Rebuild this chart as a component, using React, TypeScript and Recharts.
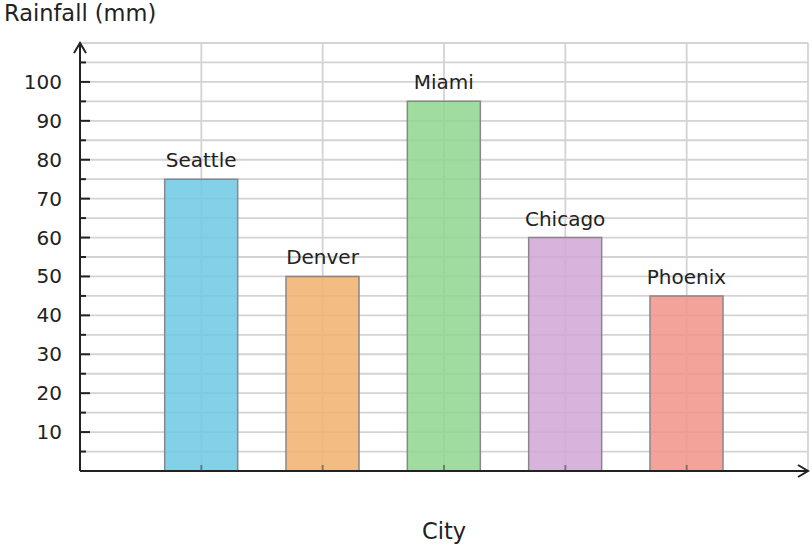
import React from 'react';
import { ComposedChart, Bar, XAxis, YAxis, CartesianGrid, ReferenceDot, Cell, LabelList } from 'recharts';

const cities = ['Seattle', 'Denver', 'Miami', 'Chicago', 'Phoenix'];
const rainfall = [75, 50, 95, 60, 45];
const barColors = ['#6DC8E5', '#F0B06C', '#8FD58F', '#D1A7D6', '#F2938A'];
const yTicks = [5, 10, 15, 20, 25, 30, 35, 40, 45, 50, 55, 60, 65, 70, 75, 80, 85, 90, 95, 100, 105, 110];
const xTicks = [1, 2, 3, 4, 5, 6];

const data = cities.map((city, i) => ({ pos: i + 1, city, rainfall: rainfall[i] }));

const FONT = 'DejaVu Sans, sans-serif';

const YTick = (props: any) => {
  const { x, y, payload } = props;
  const v = payload.value;
  if (v >= 110) return null;
  const major = v % 10 === 0;
  const axisX = x + 18;
  return (
    <g>
      <line x1={axisX} x2={axisX + (major ? 10 : 6)} y1={y} y2={y} stroke="#222" strokeWidth={2} />
      {major && (
        <text x={x} y={y} dy={7} textAnchor="end" fontSize={20} fill="#222" fontFamily={FONT}>
          {v}
        </text>
      )}
    </g>
  );
};

const XTick = (props: any) => {
  const { x, y, payload } = props;
  if (payload.value > 5) return null;
  return <line x1={x} x2={x} y1={y} y2={y - 6} stroke="#333" strokeOpacity={0.5} strokeWidth={2} />;
};

const ArrowRight = (props: any) => {
  const { cx, cy } = props;
  return <path d={`M${cx - 10},${cy - 6} L${cx},${cy} L${cx - 10},${cy + 6}`} fill="none" stroke="#222" strokeWidth={2} />;
};

const ArrowUp = (props: any) => {
  const { cx, cy } = props;
  return <path d={`M${cx - 6},${cy + 10} L${cx},${cy} L${cx + 6},${cy + 10}`} fill="none" stroke="#222" strokeWidth={2} />;
};

const CityLabel = (props: any) => {
  const { x, y, width, value } = props;
  return (
    <text x={x + width / 2} y={y - 12} textAnchor="middle" fontSize={20} fill="#222" fontFamily={FONT}>
      {value}
    </text>
  );
};

export default function App() {
  return (
    <div style={{ position: 'absolute', left: 0, top: 0, background: '#fff', fontFamily: FONT }}>
      <ComposedChart width={812} height={548} data={data} margin={{ top: 43, right: 4, left: 0, bottom: 0 }}>
        <CartesianGrid stroke="#d3d3d3" strokeWidth={1.8} />
        <XAxis
          dataKey="pos"
          type="number"
          domain={[0, 6]}
          ticks={xTicks}
          height={77}
          tickSize={0}
          tickMargin={0}
          tickLine={false}
          tick={<XTick />}
          axisLine={{ stroke: '#222', strokeWidth: 2 }}
          label={({ viewBox }: any) => (
            <text x={viewBox.x + viewBox.width / 2} y={539} textAnchor="middle" fontSize={22.5} fill="#222" fontFamily={FONT}>
              City
            </text>
          )}
        />
        <YAxis
          type="number"
          domain={[0, 110]}
          ticks={yTicks}
          width={80}
          tickSize={0}
          tickMargin={18}
          tickLine={false}
          tick={<YTick />}
          interval={0}
          axisLine={{ stroke: '#222', strokeWidth: 2 }}
          label={() => (
            <text x={4} y={21} fontSize={22.5} fill="#222" fontFamily={FONT}>
              Rainfall (mm)
            </text>
          )}
        />
        <Bar dataKey="rainfall" barSize={73} stroke="#888" strokeWidth={1.5} fillOpacity={0.85} isAnimationActive={false}>
          {data.map((d, i) => (
            <Cell key={d.city} fill={barColors[i]} />
          ))}
          <LabelList dataKey="city" content={<CityLabel />} />
        </Bar>
        <ReferenceDot x={6} y={0} r={0} shape={<ArrowRight />} ifOverflow="visible" />
        <ReferenceDot x={0} y={110} r={0} shape={<ArrowUp />} ifOverflow="visible" />
      </ComposedChart>
    </div>
  );
}
